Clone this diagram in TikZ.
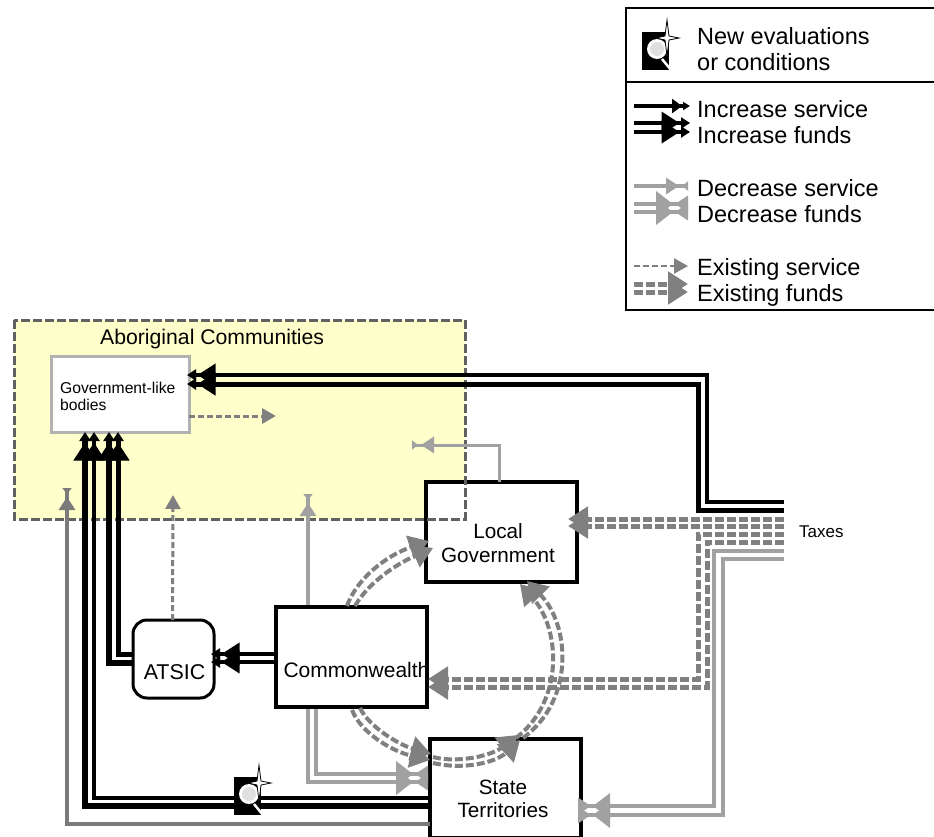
\documentclass[tikz,border=0pt]{standalone}
\usepackage{fontspec}
\setmainfont{Liberation Sans}
\usetikzlibrary{arrows.meta}

\definecolor{decgray}{gray}{0.63}
\definecolor{exgray}{gray}{0.5}
\definecolor{commyellow}{RGB}{255,255,204}

\tikzset{
    incservtip/.tip={Triangle[length=10pt,width=14pt,sep=1pt] Triangle[length=7pt,width=8pt]},
    incfundtip/.tip={Triangle[length=18pt,width=22pt,sep=1.5pt] Triangle[length=9pt,width=11pt]},
    decservtip/.tip={Triangle[length=13pt,width=16pt,sep=3pt] Triangle[reversed,length=6pt,width=9pt]},
    decfundtip/.tip={Triangle[length=17pt,width=25pt,sep=2pt] Triangle[reversed,length=13pt,width=16pt]},
    exservtip/.tip={Triangle[length=14pt,width=15pt]},
    exfundtip/.tip={Triangle[length=20pt,width=24pt]},
    incservice/.style={draw=black,line width=3.5pt,-incservtip},
    incfunds/.style={draw=black,line width=5pt,-incfundtip},
    decservice/.style={draw=decgray,line width=3.5pt,-decservtip},
    decfunds/.style={draw=decgray,line width=4pt,-decfundtip},
    exservice/.style={draw=exgray,line width=3pt,dash pattern=on 6pt off 3pt,-exservtip},
    exfunds/.style={draw=exgray,line width=5pt,dash pattern=on 9pt off 3pt,-exfundtip},
    exarc/.style={draw=exgray,line width=4pt,dash pattern=on 8pt off 3pt,-exfundtip},
    bigbox/.style={draw=black,line width=4pt,fill=white,inner sep=0pt,outer sep=0pt},
    boxtext/.style={inner sep=0pt,align=center,font=\fontsize{20.7}{23.5}\selectfont},
    keytext/.style={anchor=base west,inner sep=0pt,align=left,font=\fontsize{23.5}{26}\selectfont},
    evalicon/.pic={
        \fill[black] (0,0) rectangle (27,38);
        \draw[white,line width=2.5pt] (20,27) -- (29,38);
        \fill[white] (15,17) circle (10);
        \fill[black!12] (15,17) circle (7);
        \filldraw[fill=white,draw=black,line width=0.8pt] (25,-12) -- (27,4) -- (37,6) -- (27,8) -- (25,24) -- (23,8) -- (14,6) -- (23,4) -- cycle;
    }
}

\begin{document}
\begin{tikzpicture}[x=1pt,y=-1pt]
        \useasboundingbox (0,0) rectangle (934,836);

        \coordinate (tax1) at (784,502);
        \coordinate (tax2) at (784,510);
        \coordinate (tax3) at (784,519);
        \coordinate (tax4) at (784,526);
        \coordinate (tax5) at (784,534);
        \coordinate (tax6) at (784,542);
        \coordinate (tax7) at (784,551);
        \coordinate (tax8) at (784,559);
        \coordinate (govturn1) at (707,375);
        \coordinate (govturn2) at (698,384);
        \coordinate (commturn1) at (698,679);
        \coordinate (commturn2) at (707,687);
        \coordinate (stateturn1) at (714,806);
        \coordinate (stateturn2) at (723,815);
        \coordinate (localturn) at (499,445);
        \coordinate (lowturn1) at (94,798);
        \coordinate (lowturn2) at (85,806);
        \coordinate (lowturn3) at (67,824);
        \coordinate (fundsturn1) at (316,774);
        \coordinate (fundsturn2) at (308,782);

        % yellow area, boxes
        \fill[commyellow] (14,320) rectangle (465,519);
        \node[draw=black!30,line width=3pt,fill=white,inner sep=0pt,outer sep=0pt,minimum width=138pt,minimum height=76pt] (gov) at (120,394) {};
        \node[bigbox,minimum width=151pt,minimum height=100pt] (local) at (501.5,532) {};
        \node[bigbox,minimum width=151pt,minimum height=100pt] (comm) at (351.5,657) {};
        \node[bigbox,minimum width=151pt,minimum height=99pt] (state) at (505.5,788.5) {};
        \node[draw=black,line width=3pt,fill=white,rounded corners=14pt,inner sep=0pt,outer sep=0pt,minimum width=81pt,minimum height=78pt] (atsic) at (173.5,659) {};
        \draw[draw=black!62,line width=3pt,dash pattern=on 9pt off 3pt] (14,320) rectangle (465,519);

        \node[anchor=base west,inner sep=0pt,font=\fontsize{21.2}{24}\selectfont] (abotext) at (100,344) {Aboriginal Communities};
        \node[anchor=base west,inner sep=0pt,align=left,font=\fontsize{15.7}{17}\selectfont] (govtext) at (60,410) {Government-like\\bodies};
        \node[boxtext] (localtext) at (498,543) {Local\\Government};
        \node[anchor=base,inner sep=0pt,font=\fontsize{21}{24}\selectfont] (commtext) at (356.5,677) {Commonwealth};
        \node[boxtext] (statetext) at (503,799) {State\\Territories};
        \node[anchor=base,inner sep=0pt,font=\fontsize{21.4}{24}\selectfont] (atsictext) at (174.5,679) {ATSIC};
        \node[anchor=base west,inner sep=0pt,font=\fontsize{17}{20}\selectfont] (taxes) at (799,537) {Taxes};

        % from taxes
        \draw[incfunds,line width=3.5pt] (tax1) -| (govturn1) -- ([shift={(-2pt,19pt)}]gov.east);
        \draw[incfunds] (tax2) -| (govturn2) -- ([shift={(-2pt,10pt)}]gov.east);
        \draw[exfunds] (tax3) -- ([shift={(-9pt,13pt)}]local.east);
        \draw[exfunds] (tax4) -- ([shift={(-9pt,6pt)}]local.east);
        \draw[exfunds] (tax5) -| (commturn1) -- ([shift={(1pt,-22pt)}]comm.east);
        \draw[exfunds] (tax6) -| (commturn2) -- ([shift={(1pt,-30pt)}]comm.east);
        \draw[decfunds,line width=3.5pt] (tax7) -| (stateturn1) -- ([shift={(-3pt,-17.5pt)}]state.east);
        \draw[decfunds,line width=3.5pt] (tax8) -| (stateturn2) -- ([shift={(-3pt,-26.5pt)}]state.east);

        % atsic, commonwealth to the communities
        \draw[incfunds,line width=3.5pt] ([yshift=3pt]comm.west) -- ([shift={(-3pt,5pt)}]atsic.east);
        \draw[incfunds,line width=3.5pt] ([yshift=-5pt]comm.west) -- ([shift={(-3pt,-3pt)}]atsic.east);
        \draw[incfunds] ([yshift=5pt]atsic.west) -| ([xshift=-2pt]gov.south);
        \draw[incfunds,line width=6pt] ([yshift=-4pt]atsic.west) -| ([xshift=-11pt]gov.south);
        \draw[incfunds,line width=3.5pt] ([yshift=-9.5pt]state.west) -- (lowturn1) -- ([xshift=-26pt]gov.south);
        \draw[incfunds,line width=6pt] ([yshift=-17.5pt]state.west) -- (lowturn2) -- ([xshift=-35pt]gov.south);
        \draw[decservice,draw=black!52] ([yshift=-35.5pt]state.west) -- (lowturn3) -- (67,488);
        \draw[exservice] (atsic.north) ++(-1,0) -- (173,495);
        \draw[decservice] (308,605) -- (308,494);
        \draw[decservice,line width=3pt] (local.north) ++(-2.5,0) -- (localturn) -- (412,445);
        \draw[exservice] ([yshift=-22pt]gov.east) -- (276,416);

        % commonwealth to state
        \draw[decfunds] (316,709) -- (fundsturn1) -- ([shift={(-2pt,14.5pt)}]state.west);
        \draw[decfunds] (308,709) -- (fundsturn2) -- ([shift={(-2pt,6.5pt)}]state.west);

        % between the levels of government
        \draw[exarc] (347,606) .. controls (356,580) and (385,556) .. (429,541);
        \draw[exarc] (355,606) .. controls (366,586) and (392,566) .. (433,548);
        \draw[exarc] (352,710) .. controls (362,735) and (395,752) .. (430,760);
        \draw[exarc] (360,708) .. controls (370,728) and (400,745) .. (431,754);
        \draw[exarc] (433,757) .. controls (455,763) and (490,757) .. (518,735);
        \draw[exarc] (433,763) .. controls (462,770) and (495,763) .. (520,740);
        \draw[exarc] (523,738) .. controls (575,700) and (570,625) .. (527,581);
        \draw[exarc] (516,738) .. controls (565,700) and (560,628) .. (520,584);

        \pic at (234,777) {evalicon};

        % key
        \draw[line width=2pt] (934,8) -- (626,8) -- (626,310) -- (934,310);
        \draw[line width=2pt] (626,82) -- (934,82);
        \pic at (642,32) {evalicon};
        \node[keytext] (keynew) at (697,70) {New evaluations\\or conditions};
        \node[keytext] (keyinc) at (697,143) {Increase service\\Increase funds};
        \node[keytext] (keydec) at (697,222) {Decrease service\\Decrease funds};
        \node[keytext] (keyex) at (697,301) {Existing service\\Existing funds};

        \coordinate (keyA) at (634,106);
        \coordinate (keyB) at (634,123);
        \coordinate (keyC) at (634,132);
        \coordinate (keyD) at (634,186);
        \coordinate (keyE) at (634,204);
        \coordinate (keyF) at (634,212);
        \coordinate (keyG) at (634,266);
        \coordinate (keyH) at (634,284);
        \coordinate (keyI) at (634,292);
        \draw[incservice] (keyA) -- ++(56,0);
        \draw[incfunds,line width=3.5pt] (keyB) -- ++(56,0);
        \draw[incfunds,line width=4pt] (keyC) -- ++(56,0);
        \draw[decservice] (keyD) -- ++(54,0);
        \draw[decfunds] (keyE) -- ++(54,0);
        \draw[decfunds] (keyF) -- ++(54,0);
        \draw[exservice,line width=2.5pt] (keyG) -- ++(54,0);
        \draw[exfunds] (keyH) -- ++(54,0);
        \draw[exfunds] (keyI) -- ++(54,0);
\end{tikzpicture}
\end{document}
